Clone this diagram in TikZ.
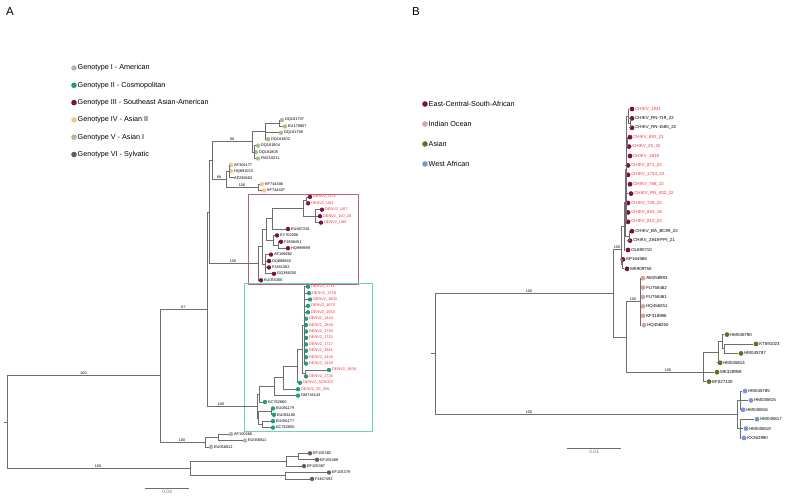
\documentclass[tikz,border=0pt]{standalone}
\usepackage{fontspec}
\setmainfont{Liberation Sans}
\usetikzlibrary{positioning}

\definecolor{gOne}{HTML}{B3B3B3}
\definecolor{gTwo}{HTML}{1E9E80}
\definecolor{gThree}{HTML}{7C1140}
\definecolor{gFour}{HTML}{F7C38E}
\definecolor{gFive}{HTML}{AABD8F}
\definecolor{gSix}{HTML}{6E5868}
\definecolor{ioPink}{HTML}{D9A3A3}
\definecolor{asOlive}{HTML}{6B6B1E}
\definecolor{waBlue}{HTML}{7B93D9}
\definecolor{labRed}{HTML}{F2333F}
\definecolor{branchGray}{HTML}{6E6E6E}
\definecolor{boxRed}{HTML}{B5627E}
\definecolor{boxTeal}{HTML}{72D1B9}

\tikzset{
  branch/.style={branchGray, line width=0.7pt},
  tipA/.style={circle, inner sep=0pt, minimum size=4.4pt, label distance=0.8pt},
  tipB/.style={circle, inner sep=0pt, minimum size=4.8pt, label distance=0.9pt},
  labA/.style={font=\fontsize{3.9}{4}\selectfont, inner sep=0.5pt},
  labB/.style={font=\fontsize{4.4}{5}\selectfont, inner sep=0.5pt},
  boot/.style={font=\fontsize{3.7}{4}\selectfont, inner sep=0.6pt, above},
  keydot/.style={circle, inner sep=0pt, minimum size=5.6pt, label distance=1pt},
  keytext/.style={font=\fontsize{7.2}{8}\selectfont, inner sep=0.5pt},
  panel/.style={font=\fontsize{11.5}{12}\selectfont},
  scalelab/.style={font=\fontsize{4.8}{5}\selectfont, below, inner sep=1.5pt},
}

\begin{document}
\begin{tikzpicture}[x=1pt, y=-1pt]
\useasboundingbox (0,0) rectangle (789,499);

% panel letters
\node[panel] (panA) at (10,12) {A};
\node[panel] (panB) at (416,12) {B};

% legend of panel A
\foreach \k/\c/\t in {0/gOne/Genotype I - American, 1/gTwo/Genotype II - Cosmopolitan,
    2/gThree/Genotype III - Southeast Asian-American, 3/gFour/Genotype IV - Asian II,
    4/gFive/Genotype V - Asian I, 5/gSix/Genotype VI - Sylvatic}
  \node[keydot, fill=\c, label={[keytext]right:\t}] (keyA\k) at (74,{68+17.3*\k}) {};

% legend of panel B
\foreach \k/\c/\t in {0/gThree/East-Central-South-African, 1/ioPink/Indian Ocean,
    2/asOlive/Asian, 3/waBlue/West African}
  \node[keydot, fill=\c, label={[keytext]right:\t}] (keyB\k) at (425,{104+20*\k}) {};

% clade boxes
\draw[boxRed, line width=0.6pt] (248,194) rectangle (358,284);
\draw[boxTeal, line width=0.6pt] (244,283) rectangle (372,431);

%%% Tree A: tips
% Genotype V
\foreach \n/\x/\y/\t in {dq97/282/120.0/DQ181797, eu57/285/126.4/EU179857,
    dq98/281/132.8/DQ181798, dq02/268/139.2/DQ181802, dq04/258/145.6/DQ181804,
    dq05/256/152.1/DQ181805, fm11/258/158.5/FM210211}
  \node[tipA, fill=gFive, label={[labA]right:\t}] (\n) at (\x,\y) {};
% Genotype IV
\foreach \n/\x/\y/\t in {af77/231/164.9/AF304177, hq23/231/171.3/HQ891023,
    kf06/262/184.1/KF744406, kf07/264/190.5/KF744407}
  \node[tipA, fill=gFour, label={[labA]right:\t}] (\n) at (\x,\y) {};
\node[labA, anchor=west] (af82) at (233.5,177.7) {AF298482};
% Genotype III
\foreach \n/\x/\y/\t in {u73/310/196.9/DENV2\_U73, u81/308/203.3/DENV2\_U81,
    u87/322/209.7/DENV2\_U87, u100/320/216.2/DENV2\_100\_20, u85/321/222.6/DENV2\_U85}
  \node[tipA, fill=gThree, label={[labA, text=labRed]right:\t}] (\n) at (\x,\y) {};
\foreach \n/\x/\y/\t in {eu16/288/229.0/EU687216, ky06/277/235.4/KY702006,
    fj51/281/241.8/FJ898451, hq99/288/248.2/HQ999999, af82b/271/254.6/AF169682,
    dq40/269/261.0/DQ888940, fj62/269/267.4/FJ461362, gq50/274/273.8/GQ398250,
    ku06/261/280.3/KU055306}
  \node[tipA, fill=gThree, label={[labA]right:\t}] (\n) at (\x,\y) {};
% Genotype II
\foreach \n/\x/\y/\t in {d1711/308/286.7/DENV2\_1711, d1759/309/293.1/DENV2\_1759,
    d1800/310/299.5/DENV2\_1800, d1670/308/305.9/DENV2\_1670, d1550/308/312.3/DENV2\_1550,
    d1444/306/318.7/DENV2\_1444, d1840/306/325.1/DENV2\_1840, d1794/306/331.5/DENV2\_1794,
    d1721/306/337.9/DENV2\_1721, d1717/306/344.4/DENV2\_1717, d1861/306/350.8/DENV2\_1861,
    d1440/306/357.2/DENV2\_1440, d1448/306/363.6/DENV2\_1448, d1658/329/370.0/DENV2\_1658,
    d1730/306/376.4/DENV2\_1730, dacn/300/382.8/DENV2\_ACN003, d20/298/389.2/DENV2\_20\_255}
  \node[tipA, fill=gTwo, label={[labA, text=labRed]right:\t}] (\n) at (\x,\y) {};
\foreach \n/\x/\y/\t in {om43/298/395.6/OM744143, kc60/265/402.0/KC762660,
    eu79/273/408.4/EU081179, eu80/274/414.8/EU081180, eu77/273/421.2/EU081177,
    kc50/273/427.6/KC762650}
  \node[tipA, fill=gTwo, label={[labA]right:\t}] (\n) at (\x,\y) {};
% Genotype I
\foreach \n/\x/\y/\t in {af66/231/434.1/AF100466, eu11/245/440.5/EU056811,
    eu12/211/446.9/EU056812}
  \node[tipA, fill=gOne, label={[labA]right:\t}] (\n) at (\x,\y) {};
% Genotype VI
\foreach \n/\x/\y/\t in {ef82/310/453.3/EF105382, ef89/317/459.7/EF105389,
    ef87/304/466.1/EF105387, ef79/329/472.5/EF105379, fj93/312/478.9/FJ467493}
  \node[tipA, fill=gSix, label={[labA]right:\t}] (\n) at (\x,\y) {};

%%% Tree A: inner nodes
\coordinate (rootA) at (7,422);
\coordinate (nU) at (160,375.6);
\coordinate (nX) at (207,309.1);
\coordinate (nY) at (209,212);
\coordinate (g45) at (212,160.5);
\coordinate (g5) at (252,141.6);
\coordinate (g5a) at (265,131.2);
\coordinate (g5c) at (279,123.2);
\coordinate (g5b) at (254,152.1);
\coordinate (g4) at (226,179.3);
\coordinate (g4a) at (229,171.3);
\coordinate (kf) at (258,187.3);
\coordinate (g3) at (258,263.6);
\coordinate (g3a) at (262,246.8);
\coordinate (g3b) at (266,229.4);
\coordinate (g3c) at (265,264.2);
\coordinate (g3d) at (272,218.6);
\coordinate (g3e) at (273,240.2);
\coordinate (g3f) at (303,208.2);
\coordinate (g3g) at (306,200.1);
\coordinate (g3h) at (315,216.2);
\coordinate (g3i) at (278,245);
\coordinate (g2) at (257,406.2);
\coordinate (n1) at (259,394.3);
\coordinate (n2) at (274,386.6);
\coordinate (n3) at (283,377.6);
\coordinate (n4) at (297,366);
\coordinate (n5) at (302,349.2);
\coordinate (n6) at (304,325.2);
\coordinate (n7) at (305,373.2);
\coordinate (g2b) at (258,418);
\coordinate (g2c) at (271,411.6);
\coordinate (g2d) at (262,424.4);
\coordinate (g1) at (205,442.1);
\coordinate (g1a) at (218,437.3);
\coordinate (nS) at (190,468.5);
\coordinate (s1) at (286,461.3);
\coordinate (s1a) at (298,456.5);
\coordinate (s2) at (285,475.7);

% branches
\foreach \p/\c in {g5c/dq97, g5c/eu57, g5a/g5c, g5a/dq98, g5a/dq02, g5b/dq04, g5b/dq05,
    g5b/fm11, g5/g5a, g5/g5b, g4a/af77, g4a/hq23, g4a/af82, kf/kf06, kf/kf07, g4/g4a,
    g4/kf, g45/g5, g45/g4, g3g/u73, g3g/u81, g3h/u87, g3h/u100, g3h/u85, g3f/g3g,
    g3f/g3h, g3d/g3f, g3d/eu16, g3i/fj51, g3i/hq99, g3e/ky06, g3e/g3i, g3b/g3d,
    g3b/g3e, g3c/af82b, g3c/dq40, g3c/fj62, g3c/gq50, g3a/g3b, g3a/g3c, g3/g3a,
    g3/ku06, nY/g45, nY/g3, n7/d1658, n7/d1730, n5/n6, n5/n7, n4/n5, n4/dacn, n3/n4,
    n3/d20, n2/n3, n2/om43, n1/n2, n1/kc60, g2c/eu79, g2c/eu80, g2d/eu77, g2d/kc50,
    g2b/g2c, g2b/g2d, g2/n1, g2/g2b, nX/nY, nX/g2, g1a/af66, g1a/eu11, g1/g1a,
    g1/eu12, nU/nX, nU/g1, s1a/ef82, s1a/ef89, s1/s1a, s1/ef87, s2/ef79, s2/fj93,
    nS/s1, nS/s2, rootA/nU, rootA/nS}
  \draw[branch] (\p) |- (\c);
\foreach \c in {d1711, d1759, d1800, d1670, d1550, d1444, d1840, d1794, d1721, d1717,
    d1861, d1440, d1448}
  \draw[branch] (n6) |- (\c);
\draw[branch] (rootA) -- ++(-3,0);

% support values
\node[boot] (bsA1) at (83.5,375.6) {100};
\node[boot] (bsA2) at (98,468.5) {100};
\node[boot] (bsA3) at (183.5,309.1) {67};
\node[boot] (bsA4) at (182,442.1) {100};
\node[boot] (bsA5) at (221,406.2) {100};
\node[boot] (bsA6) at (233,263.6) {100};
\node[boot] (bsA7) at (232,141.6) {98};
\node[boot] (bsA8) at (219,179.3) {88};
\node[boot] (bsA9) at (242,187.3) {100};

% scale bar A
\draw[branch] (145,488) -- node[scalelab] (scA) {0.03} (189,488);

%%% Tree B: tips
% East-Central-South-African
\foreach \n/\x/\y/\t in {c1941/632/109.0/CHIKV\_1941, c892/630/137.2/CHIKV\_892\_21,
    c25/629/146.6/CHIKV\_25\_22, c1839/630/156.0/CHIKV\_1839, c871/628/165.4/CHIKV\_871\_22,
    c1754/628/174.8/CHIKV\_1754\_22, c788/630/184.2/CHIKV\_788\_22,
    c832/631/193.6/CHIKV\_RN\_832\_22, c726/628/203.0/CHIKV\_726\_22,
    c833/628/212.4/CHIKV\_833\_18, c812/628/221.8/CHIKV\_812\_22}
  \node[tipB, fill=gThree, label={[labB, text=labRed]right:\t}] (\n) at (\x,\y) {};
\foreach \n/\x/\y/\t in {c719/632/118.4/CHIKV\_RN-719\_22, c1585/632/127.8/CHIKV\_RN-1585\_22,
    cba/632/231.2/CHIKV\_BA\_BC89\_22, c2848/630/240.6/CHIKV\_2848-PPI\_21,
    ol10/628/250.0/OL690710, kp68/623/259.4/KP164568, mk55/627/268.8/MK909755}
  \node[tipB, fill=gThree, label={[labB]right:\t}] (\n) at (\x,\y) {};
% Indian Ocean
\foreach \n/\x/\y/\t in {am93/643/278.2/AM258993, fu62/643/287.6/FU758462,
    fu61/643/297.0/FU758461, hq51/643/306.4/HQ456251, kf86/643/315.8/KF318986,
    hq50/644/325.2/HQ456250}
  \node[tipB, fill=ioPink, label={[labB]right:\t}] (\n) at (\x,\y) {};
% Asian
\foreach \n/\x/\y/\t in {hm90/727/334.6/HM045790, kt23/756/344.0/KT591023,
    hm87/741/353.4/HM045787, hm14/720/362.8/HM045814, mk59/717/372.2/MK328959,
    ef40/709/381.6/EF027140}
  \node[tipB, fill=asOlive, label={[labB]right:\t}] (\n) at (\x,\y) {};
% West African
\foreach \n/\x/\y/\t in {hm85/745/391.0/HM045785, hm15/751/400.4/HM045815,
    hm16/743/409.8/HM045816, hm17/757/419.2/HM045817, hm18/746/428.6/HM045818,
    kx90/744/438.0/KX262990}
  \node[tipB, fill=waBlue, label={[labB]right:\t}] (\n) at (\x,\y) {};

%%% Tree B: inner nodes
\coordinate (rootB) at (435,353.8);
\coordinate (b1) at (613,293);
\coordinate (b2) at (626,337);
\coordinate (ecsa) at (621,249);
\coordinate (e1) at (624,226.2);
\coordinate (e2) at (622,264.1);
\coordinate (e3) at (625,202.5);
\coordinate (e4) at (626,169);
\coordinate (e5) at (629,235.9);
\coordinate (ea) at (628,116);
\coordinate (eb) at (630,123.1);
\coordinate (ec) at (627.5,141.9);
\coordinate (iocean) at (640,301.7);
\coordinate (asia) at (703,372);
\coordinate (as1) at (718,352.2);
\coordinate (as2) at (722,341.7);
\coordinate (as3) at (724,348.7);
\coordinate (wafr) at (737,414.5);
\coordinate (wa1) at (740,400.4);
\coordinate (wa2) at (740,428.6);

% branches
\foreach \p/\c in {eb/c719, eb/c1585, ea/c1941, ea/eb, ec/c892, ec/c25, e4/ea, e4/ec,
    e4/c1839, e4/c871, e4/c1754, e4/c788, e4/c832, e4/c726, e4/c833, e4/c812,
    e5/cba, e5/c2848, e3/e4, e3/e5, e1/e3, e1/ol10, e2/kp68, e2/mk55, ecsa/e1, ecsa/e2,
    iocean/am93, iocean/fu62, iocean/fu61, iocean/hq51, iocean/kf86, iocean/hq50,
    as3/kt23, as3/hm87, as2/hm90, as2/as3, as1/as2, as1/hm14, asia/as1, asia/mk59,
    asia/ef40, b2/iocean, b2/asia, b1/ecsa, b1/b2, wa1/hm85, wa1/hm15, wa1/hm16,
    wa2/hm17, wa2/hm18, wa2/kx90, wafr/wa1, wafr/wa2, rootB/b1, rootB/wafr}
  \draw[branch] (\p) |- (\c);
\draw[branch] (rootB) -- ++(-4,0);

% support values
\node[boot] (bsB1) at (529,293) {100};
\node[boot] (bsB2) at (529,414.5) {100};
\node[boot] (bsB3) at (617,249) {100};
\node[boot] (bsB4) at (633,301.7) {100};
\node[boot] (bsB5) at (668,372) {100};

% scale bar B
\draw[branch] (567,448) -- node[scalelab] (scB) {0.03} (621,448);
\end{tikzpicture}
\end{document}
